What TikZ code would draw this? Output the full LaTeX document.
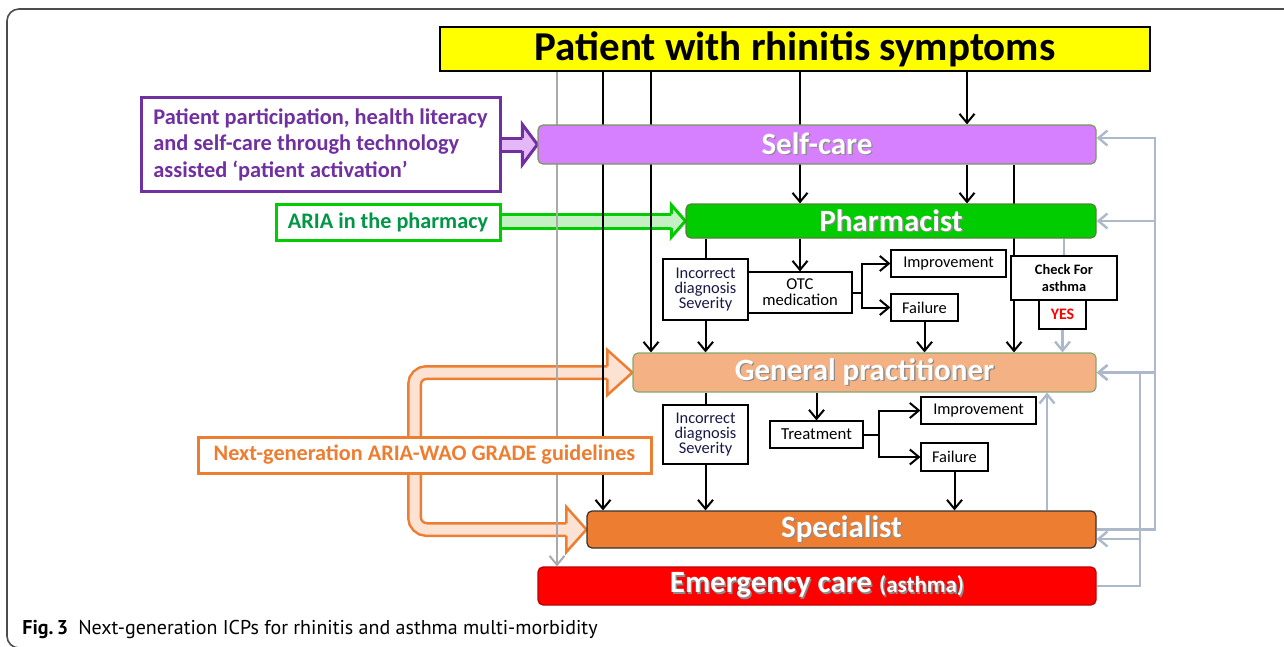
\documentclass[tikz,border=0pt]{standalone}
\usepackage{fontspec}
\setmainfont{Carlito}
\newfontfamily\capfont{PT Sans}
\usetikzlibrary{arrows.meta,positioning,backgrounds}

\definecolor{titleyellow}{RGB}{255,255,0}
\definecolor{selfpurple}{RGB}{214,128,255}
\definecolor{darkpurple}{RGB}{112,48,160}
\definecolor{lightpurple}{RGB}{228,184,246}
\definecolor{pharmgreen}{RGB}{0,204,0}
\definecolor{lightgreen}{RGB}{196,240,196}
\definecolor{ariagreen}{RGB}{0,150,70}
\definecolor{gppeach}{RGB}{244,177,131}
\definecolor{specorange}{RGB}{237,125,49}
\definecolor{lightorange}{RGB}{251,226,210}
\definecolor{emred}{RGB}{255,0,0}
\definecolor{fbgrey}{RGB}{173,185,202}
\definecolor{midgrey}{RGB}{170,170,170}
\definecolor{boxgreen}{RGB}{84,130,53}
\definecolor{navytext}{RGB}{25,25,70}

% white label with a soft shadow
\newcommand{\shadowed}[1]{\rlap{\hspace{0.7pt}\raisebox{-0.7pt}{\textcolor{black!45}{#1}}}#1}

\tikzset{
  level/.style={line width=0.6pt, rounded corners=2.5pt, text=white, inner sep=0pt,
    font=\fontsize{15.5}{18}\selectfont\bfseries},
  smallbox/.style={draw, line width=0.6pt, fill=white, inner sep=0pt, align=center,
    font=\fontsize{8.2}{7.6}\selectfont},
  sidebox/.style={line width=1.5pt, fill=white, inner sep=0pt,
    font=\fontsize{11.1}{13.3}\selectfont\bfseries},
  blk/.style={->, line width=1pt},
  fb/.style={->, draw=fbgrey, line width=1.2pt},
  >={Straight Barb[length=4.5pt,width=7.5pt]}
}

\begin{document}
\begin{tikzpicture}[x=0.5pt, y=-0.5pt]
  \useasboundingbox (0,0) rectangle (1284,647);
  \draw[draw=black!70, line width=0.8pt, rounded corners=6pt] (1290,9) -- (7,9) -- (7,648) -- (1290,648);

  % levels of care
  \node[draw, line width=0.8pt, fill=titleyellow, minimum width=355pt, minimum height=22pt, inner sep=0pt,
    font=\fontsize{20.5}{24}\selectfont\bfseries] (title) at (795,49) {Patient with rhinitis symptoms};
  \node[level, draw=boxgreen!80, fill=selfpurple, minimum width=279pt, minimum height=19.5pt] (self) at (817,144.5) {\shadowed{Self-care}};
  \node[level, draw=boxgreen, fill=pharmgreen, minimum width=205pt, minimum height=17pt] (phar) at (891,221) {\shadowed{Pharmacist}};
  \node[level, draw=boxgreen!70, fill=gppeach, minimum width=231.5pt, minimum height=19.5pt] (gp) at (864.5,372.5) {\shadowed{General practitioner}};
  \node[level, draw=black!80, fill=specorange, minimum width=254.5pt, minimum height=18.5pt] (spec) at (841.5,529.5) {\shadowed{Specialist}};
  \node[level, draw=red!75!black, fill=emred, minimum width=279pt, minimum height=19pt] (emer) at (817,586)
    {\shadowed{Emergency care {\fontsize{11.5}{14}\selectfont(asthma)}}};

  % side inputs
  \node[sidebox, draw=darkpurple, text=darkpurple, minimum width=179.5pt, minimum height=46.5pt,
    align=left, font=\fontsize{11.2}{13.3}\selectfont\bfseries] (activation) at (320.5,144.5)
    {Patient participation, health literacy\\and self-care through technology\\assisted ‘patient activation’};
  \node[sidebox, draw=pharmgreen, text=ariagreen, minimum width=112pt, minimum height=18pt] (aria) at (388,222) {ARIA in the pharmacy};

  % pharmacist level
  \node[smallbox, text=navytext, minimum width=42.5pt, minimum height=30.5pt] (inc1) at (705.5,289.5) {Incorrect\\diagnosis\\Severity};
  \node[smallbox, minimum width=52pt, minimum height=20.5pt, font=\fontsize{8.3}{8}\selectfont] (otc) at (800,292.5) {OTC\\medication};
  \node[smallbox, minimum width=57.5pt, minimum height=13.5pt] (imp1) at (948.5,263.5) {Improvement};
  \node[smallbox, minimum width=33.5pt, minimum height=13.5pt] (fail1) at (924.5,307.5) {Failure};
  \node[smallbox, minimum width=53pt, minimum height=22pt, font=\fontsize{7.2}{8.3}\selectfont\bfseries] (check) at (1064,278) {Check For\\asthma};
  \node[smallbox, text=red, minimum width=23.5pt, minimum height=14.5pt, font=\fontsize{8}{9}\selectfont\bfseries] (yes) at (1062.5,314.5) {YES};

  % general practitioner level
  \node[smallbox, text=navytext, minimum width=42.5pt, minimum height=29.5pt] (inc2) at (705.5,434.5) {Incorrect\\diagnosis\\Severity};
  \node[smallbox, minimum width=46.5pt, minimum height=13.5pt, font=\fontsize{8.4}{9}\selectfont] (treat) at (816.5,434.5) {Treatment};
  \node[smallbox, minimum width=57.5pt, minimum height=13.5pt] (imp2) at (978.5,410.5) {Improvement};
  \node[smallbox, minimum width=33.5pt, minimum height=14pt] (fail2) at (954.5,457) {Failure};

  \coordinate (gcol) at (557,0);
  \coordinate (scol) at (603,0);
  \coordinate (pcol) at (651,0);
  \coordinate (tcol) at (967,0);
  \coordinate (rcol) at (1014,0);
  \coordinate (ucol) at (1047,0);
  \coordinate (railA) at (1155,138);
  \coordinate (railB) at (1140,0);
  \coordinate (specin) at ([yshift=-4.75pt]spec.east);

  \begin{pgfonlayer}{background}
    % block arrows
    \draw[draw=darkpurple, double=lightpurple, line width=1.5pt, double distance=5pt] (activation.east) -- ++(24,0);
    \fill[lightpurple] (self.west) -- ++(-15,-20) -- ++(0,40) -- cycle;
    \draw[darkpurple, line width=1.5pt] (self.west) ++(-15,-6.5) -- ++(0,-13.5) -- (self.west) -- ++(-15,20) -- ++(0,-13.5);

    \draw[draw=pharmgreen, double=lightgreen, line width=1.5pt, double distance=5.5pt] (aria.east |- phar.west) -- ++(173,0);
    \fill[lightgreen] (phar.west) -- ++(-14,-16) -- ++(0,32) -- cycle;
    \draw[pharmgreen, line width=1.5pt] (phar.west) ++(-14,-7) -- ++(0,-9) -- (phar.west) -- ++(-14,16) -- ++(0,-9);

    \draw[draw=specorange, double=lightorange, line width=1.25pt, double distance=5pt, rounded corners=6pt]
      ([xshift=-12pt]gp.west) -| (414.5,529.5) -- ([xshift=-9.5pt]spec.west);
    \fill[lightorange] (gp.west) -- ++(-25,-22.5) -- ++(0,45) -- cycle;
    \draw[specorange, line width=1.25pt] (gp.west) ++(-25,-6.25) -- ++(0,-16.25) -- (gp.west) -- ++(-25,22.5) -- ++(0,-16.25);
    \fill[lightorange] (spec.west) -- ++(-20,-22.5) -- ++(0,45) -- cycle;
    \draw[specorange, line width=1.25pt] (spec.west) ++(-20,-6.25) -- ++(0,-16.25) -- (spec.west) -- ++(-20,22.5) -- ++(0,-16.25);

    % pathways from the patient
    \draw[->, draw=midgrey, line width=1pt] (title.south -| gcol) -- (emer.north -| gcol);
    \draw[blk] (title.south -| scol) -- (spec.north -| scol);
    \draw[blk] (title.south -| pcol) -- (gp.north -| pcol);
    \draw[blk] (title.south -| otc) -- (phar.north -| otc);
    \draw[blk] (title.south -| tcol) -- (self.north -| tcol);
    \draw[blk] (self.south -| tcol) -- (phar.north -| tcol);
    \draw[blk] (self.south -| rcol) -- (gp.north -| rcol);

    % pharmacist
    \draw[line width=1pt] (phar.south -| inc1) -- (inc1.north);
    \draw[blk] (inc1.south) -- (gp.north -| inc1);
    \draw[blk] (phar.south -| otc) -- (otc.north);
    \draw[blk] (otc.east) -- ++(9,0) |- (imp1.west);
    \draw[blk] (otc.east) -- ++(9,0) |- (fail1.west);
    \draw[blk] (fail1.south) -- (gp.north -| fail1);
    \draw[draw=fbgrey, line width=1.2pt] (phar.south -| check) -- (check.north);
    \draw[fb] (yes.south) -- (gp.north -| yes);

    % general practitioner
    \draw[line width=1pt] (gp.south -| inc2) -- (inc2.north);
    \draw[blk] (inc2.south) -- (spec.north -| inc2);
    \draw[blk] (gp.south -| treat) -- (treat.north);
    \draw[blk] (treat.east) -- ++(15,0) |- (imp2.west);
    \draw[blk] (treat.east) -- ++(15,0) |- (fail2.west);
    \draw[blk] (fail2.south) -- (spec.north -| fail2);
    \draw[fb] (spec.north -| ucol) -- (gp.south -| ucol);

    % referral back
    \draw[fb] (spec.east) -| (railA) -- ([yshift=3.25pt]self.east);
    \draw[fb] (railA |- phar.east) -- (phar.east);
    \draw[fb] (railA |- gp.east) -- (gp.east);
    \draw[fb] (emer.east) -| (railB |- gp.east) -- (gp.east);
    \draw[fb] (specin -| railB) -- (specin);
  \end{pgfonlayer}

  \node[sidebox, draw=specorange, text=specorange, minimum width=226.5pt, minimum height=18pt] (grade) at (424.5,455)
    {Next-generation ARIA-WAO GRADE guidelines};

  \node[anchor=base west, inner sep=0pt, font=\capfont\fontsize{10}{12}\selectfont] (caption) at (22,634)
    {\textbf{Fig.\,3}\hspace{5pt}Next-generation ICPs for rhinitis and asthma multi-morbidity};
\end{tikzpicture}
\end{document}
